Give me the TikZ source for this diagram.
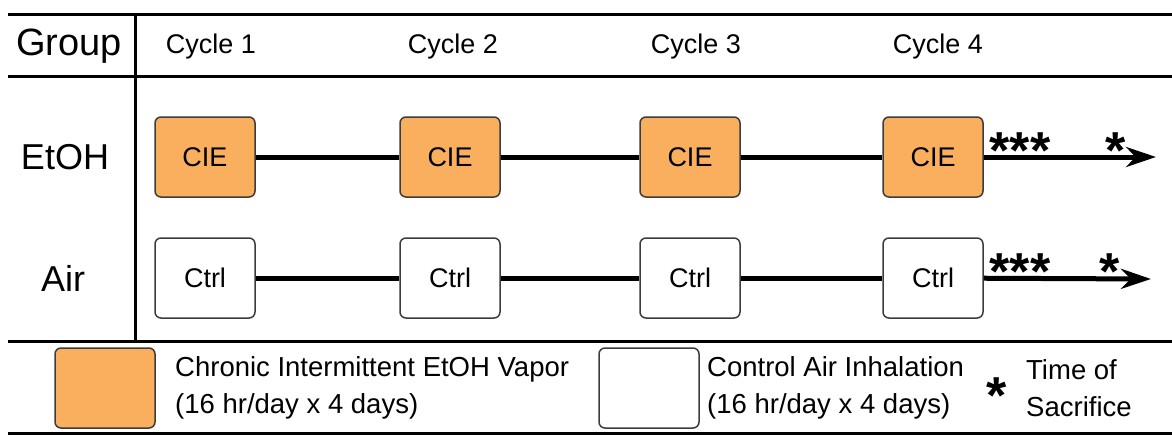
\documentclass[tikz,border=0pt]{standalone}
\usepackage{fontspec}
\setmainfont{Liberation Sans}
\usetikzlibrary{arrows.meta}
\definecolor{vapor}{RGB}{250,175,94}
\definecolor{boxline}{RGB}{60,60,60}
\newcommand{\fs}[1]{\fontsize{#1}{#1}\selectfont}

\begin{document}
\begin{tikzpicture}[x=1pt,y=-1pt,>={Stealth[length=30pt,width=20pt]},
  rule/.style={line width=3pt},
  ciebox/.style={draw=boxline,line width=1.5pt,rounded corners=6pt,fill=vapor,
    minimum width=100pt,minimum height=80pt,inner sep=0pt,font=\fs{27}},
  ctrlbox/.style={ciebox,fill=white},
  tline/.style={line width=5pt},
  stars/.style={inner sep=0pt,font=\fs{52}\bfseries},
  legtext/.style={anchor=west,align=left,inner sep=0pt,font=\fontsize{27.5}{37}\selectfont}]
\useasboundingbox (0,0) rectangle (1172,436);
% table frame
\draw[rule] (8,15)--(1172,15);
\draw[rule] (8,76)--(1172,76);
\draw[rule] (8,341)--(1172,341);
\draw[rule] (8,433)--(1172,433);
\draw[rule] (135,15)--(135,341);
% header row
\node[font=\fs{38}] (group) at (69,46) {Group};
\node[font=\fs{27}] (cyc1) at (211,47) {Cycle 1};
\node[font=\fs{27}] (cyc2) at (453,47) {Cycle 2};
\node[font=\fs{27}] (cyc3) at (696,47) {Cycle 3};
\node[font=\fs{27}] (cyc4) at (938,47) {Cycle 4};
% EtOH group
\node[font=\fs{36}] (etoh) at (65,157) {EtOH};
\node[ciebox] (cie1) at (205,157) {CIE};
\node[ciebox] (cie2) at (450,157) {CIE};
\node[ciebox] (cie3) at (690,157) {CIE};
\node[ciebox] (cie4) at (933,157) {CIE};
\coordinate (etohend) at (1156,157);
\draw[tline] (cie1)--(cie2) (cie2)--(cie3) (cie3)--(cie4);
\draw[tline,->] (cie4)--(etohend);
\node[stars] (estars) at (1020,151) {***};
\node[stars] (estar) at (1116,151) {*};
% Air group
\node[font=\fs{36}] (air) at (63,278) {Air};
\node[ctrlbox] (ctrl1) at (205,278) {Ctrl};
\node[ctrlbox] (ctrl2) at (450,278) {Ctrl};
\node[ctrlbox] (ctrl3) at (690,278) {Ctrl};
\node[ctrlbox] (ctrl4) at (933,278) {Ctrl};
\coordinate (airend) at (1151,279);
\draw[tline] (ctrl1)--(ctrl2) (ctrl2)--(ctrl3) (ctrl3)--(ctrl4);
\draw[tline,->] (ctrl4)--(airend);
\node[stars] (astars) at (1020,272) {***};
\node[stars] (astar) at (1110,272) {*};
% legend
\node[ciebox] (legcie) at (105,388) {};
\node[legtext] (legcietxt) at (175,388) {Chronic Intermittent EtOH Vapor\\(16 hr/day x 4 days)};
\node[ctrlbox] (legctrl) at (649,388) {};
\node[legtext] (legctrltxt) at (707,388) {Control Air Inhalation\\(16 hr/day x 4 days)};
\node[stars] (legstar) at (997,396) {*};
\node[legtext] (legsac) at (1026,388) {Time of\\Sacrifice};
\end{tikzpicture}
\end{document}
